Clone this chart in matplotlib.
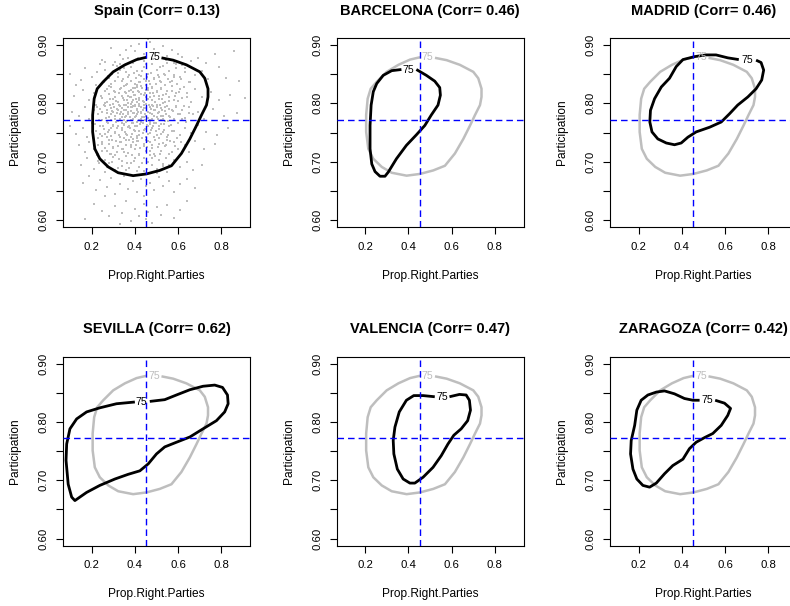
import matplotlib
matplotlib.use("Agg")
import matplotlib.pyplot as plt

plt.rcParams["font.family"] = ["Liberation Sans", "DejaVu Sans"]

GRAY = "#BEBEBE"
X_MEAN, Y_MEAN = 0.453, 0.772
XTICKS = [0.2, 0.4, 0.6, 0.8]
YTICKS = [0.60, 0.65, 0.70, 0.75, 0.80, 0.85, 0.90]
YTICKLABELS = ["0.60", "", "0.70", "", "0.80", "", "0.90"]

# municipalities of Spain (read off the grey cloud, approximate)
spain_pts = [
    # outer ring / sparse
    (0.29, 0.895), (0.33, 0.883), (0.36, 0.892), (0.38, 0.898), (0.40, 0.889), (0.42, 0.901),
    (0.44, 0.885), (0.47, 0.905), (0.49, 0.893), (0.51, 0.887), (0.53, 0.899), (0.55, 0.882),
    (0.57, 0.891), (0.60, 0.884), (0.62, 0.879), (0.66, 0.872), (0.69, 0.877), (0.73, 0.870),
    (0.77, 0.885), (0.86, 0.889), (0.25, 0.875), (0.31, 0.871), (0.46, 0.910), (0.37, 0.877),
    (0.58, 0.870),
    (0.10, 0.851), (0.15, 0.840), (0.17, 0.861), (0.20, 0.846), (0.22, 0.832), (0.26, 0.858),
    (0.28, 0.843), (0.30, 0.866), (0.32, 0.852), (0.34, 0.838), (0.35, 0.861), (0.37, 0.845),
    (0.39, 0.869), (0.40, 0.834), (0.41, 0.856), (0.43, 0.847), (0.44, 0.862), (0.45, 0.838),
    (0.46, 0.851), (0.48, 0.868), (0.49, 0.842), (0.50, 0.857), (0.52, 0.836), (0.53, 0.864),
    (0.54, 0.849), (0.56, 0.855), (0.57, 0.839), (0.59, 0.861), (0.61, 0.846), (0.63, 0.853),
    (0.65, 0.836), (0.68, 0.848), (0.71, 0.856), (0.74, 0.842), (0.79, 0.862), (0.82, 0.843),
    (0.88, 0.838), (0.13, 0.832), (0.24, 0.868), (0.36, 0.831), (0.47, 0.833), (0.58, 0.848),
    (0.42, 0.836), (0.33, 0.867), (0.51, 0.846), (0.62, 0.866), (0.29, 0.834), (0.44, 0.873),
    (0.55, 0.869),
    (0.12, 0.812), (0.16, 0.823), (0.19, 0.805), (0.21, 0.818), (0.23, 0.827), (0.25, 0.809),
    (0.26, 0.821), (0.27, 0.802), (0.28, 0.816), (0.29, 0.828), (0.30, 0.808), (0.31, 0.819),
    (0.32, 0.803), (0.33, 0.825), (0.34, 0.812), (0.35, 0.806), (0.35, 0.829), (0.36, 0.817),
    (0.37, 0.801), (0.38, 0.823), (0.38, 0.811), (0.39, 0.806), (0.40, 0.826), (0.40, 0.815),
    (0.41, 0.803), (0.42, 0.820), (0.42, 0.809), (0.43, 0.829), (0.44, 0.814), (0.44, 0.802),
    (0.45, 0.823), (0.46, 0.808), (0.47, 0.818), (0.48, 0.827), (0.48, 0.805), (0.49, 0.813),
    (0.50, 0.821), (0.51, 0.808), (0.52, 0.826), (0.53, 0.814), (0.54, 0.803), (0.55, 0.822),
    (0.56, 0.811), (0.57, 0.829), (0.58, 0.806), (0.59, 0.818), (0.61, 0.825), (0.62, 0.809),
    (0.64, 0.817), (0.66, 0.803), (0.68, 0.824), (0.71, 0.811), (0.75, 0.819), (0.79, 0.806),
    (0.84, 0.814), (0.91, 0.809), (0.31, 0.811), (0.41, 0.828), (0.46, 0.826), (0.53, 0.801),
    (0.37, 0.813), (0.27, 0.824), (0.60, 0.804), (0.45, 0.811), (0.39, 0.819),
    (0.11, 0.786), (0.14, 0.778), (0.17, 0.793), (0.19, 0.774), (0.21, 0.788), (0.22, 0.798),
    (0.23, 0.781), (0.24, 0.791), (0.25, 0.772), (0.26, 0.796), (0.27, 0.784), (0.28, 0.777),
    (0.29, 0.792), (0.30, 0.785), (0.30, 0.799), (0.31, 0.773), (0.32, 0.789), (0.33, 0.781),
    (0.33, 0.795), (0.34, 0.776), (0.35, 0.788), (0.36, 0.797), (0.36, 0.779), (0.37, 0.786),
    (0.38, 0.793), (0.38, 0.771), (0.39, 0.783), (0.40, 0.798), (0.40, 0.776), (0.41, 0.789),
    (0.41, 0.781), (0.42, 0.795), (0.43, 0.774), (0.43, 0.786), (0.44, 0.792), (0.45, 0.779),
    (0.45, 0.799), (0.46, 0.785), (0.47, 0.772), (0.47, 0.794), (0.48, 0.781), (0.49, 0.789),
    (0.50, 0.776), (0.50, 0.797), (0.51, 0.785), (0.52, 0.792), (0.53, 0.773), (0.54, 0.787),
    (0.55, 0.796), (0.56, 0.779), (0.57, 0.789), (0.58, 0.774), (0.59, 0.795), (0.60, 0.782),
    (0.62, 0.788), (0.63, 0.775), (0.65, 0.793), (0.67, 0.781), (0.69, 0.786), (0.72, 0.774),
    (0.76, 0.791), (0.81, 0.778), (0.87, 0.783), (0.35, 0.771), (0.44, 0.777), (0.52, 0.779),
    (0.29, 0.781), (0.39, 0.796), (0.48, 0.798),
    (0.10, 0.762), (0.13, 0.748), (0.16, 0.757), (0.18, 0.743), (0.20, 0.766), (0.22, 0.752),
    (0.23, 0.741), (0.24, 0.761), (0.26, 0.748), (0.27, 0.768), (0.28, 0.755), (0.29, 0.744),
    (0.30, 0.762), (0.31, 0.751), (0.32, 0.769), (0.33, 0.742), (0.34, 0.757), (0.35, 0.765),
    (0.36, 0.748), (0.37, 0.759), (0.38, 0.743), (0.39, 0.766), (0.40, 0.753), (0.41, 0.761),
    (0.42, 0.746), (0.43, 0.768), (0.44, 0.755), (0.45, 0.742), (0.46, 0.762), (0.47, 0.749),
    (0.48, 0.758), (0.49, 0.767), (0.50, 0.745), (0.51, 0.756), (0.52, 0.764), (0.53, 0.751),
    (0.55, 0.743), (0.56, 0.761), (0.58, 0.752), (0.60, 0.766), (0.61, 0.745), (0.63, 0.757),
    (0.66, 0.749), (0.69, 0.763), (0.73, 0.751), (0.78, 0.746), (0.83, 0.758), (0.36, 0.768),
    (0.41, 0.741), (0.47, 0.765), (0.25, 0.744), (0.54, 0.769),
    (0.14, 0.728), (0.17, 0.716), (0.19, 0.734), (0.21, 0.722), (0.23, 0.713), (0.25, 0.731),
    (0.27, 0.719), (0.28, 0.737), (0.30, 0.726), (0.31, 0.712), (0.33, 0.733), (0.34, 0.721),
    (0.36, 0.738), (0.37, 0.715), (0.38, 0.729), (0.40, 0.722), (0.41, 0.735), (0.42, 0.711),
    (0.44, 0.727), (0.45, 0.718), (0.46, 0.736), (0.48, 0.724), (0.49, 0.713), (0.51, 0.731),
    (0.52, 0.719), (0.54, 0.727), (0.56, 0.714), (0.58, 0.733), (0.60, 0.721), (0.63, 0.728),
    (0.65, 0.716), (0.68, 0.736), (0.72, 0.722), (0.77, 0.731), (0.29, 0.714), (0.39, 0.739),
    (0.47, 0.711), (0.55, 0.738),
    (0.15, 0.694), (0.18, 0.706), (0.21, 0.688), (0.23, 0.701), (0.26, 0.683), (0.28, 0.697),
    (0.30, 0.708), (0.32, 0.689), (0.34, 0.702), (0.36, 0.685), (0.38, 0.697), (0.40, 0.707),
    (0.42, 0.691), (0.44, 0.684), (0.46, 0.699), (0.48, 0.706), (0.50, 0.688), (0.53, 0.696),
    (0.55, 0.682), (0.58, 0.703), (0.61, 0.691), (0.64, 0.699), (0.67, 0.686), (0.71, 0.694),
    (0.36, 0.709), (0.51, 0.703),
    (0.16, 0.663), (0.19, 0.675), (0.22, 0.652), (0.24, 0.668), (0.27, 0.657), (0.29, 0.672),
    (0.31, 0.645), (0.33, 0.661), (0.35, 0.676), (0.37, 0.654), (0.39, 0.667), (0.41, 0.648),
    (0.43, 0.671), (0.45, 0.658), (0.47, 0.664), (0.49, 0.651), (0.51, 0.673), (0.53, 0.659),
    (0.56, 0.667), (0.58, 0.648), (0.61, 0.662), (0.64, 0.671), (0.68, 0.655), (0.26, 0.642),
    (0.44, 0.642),
    (0.17, 0.601), (0.21, 0.628), (0.25, 0.615), (0.28, 0.607), (0.31, 0.624), (0.34, 0.612),
    (0.36, 0.632), (0.38, 0.598), (0.40, 0.619), (0.42, 0.607), (0.44, 0.628), (0.46, 0.614),
    (0.48, 0.595), (0.50, 0.622), (0.52, 0.609), (0.55, 0.626), (0.58, 0.603), (0.61, 0.618),
    (0.64, 0.632), (0.33, 0.593), (0.45, 0.601),
    # dense core
    (0.225, 0.853), (0.243, 0.812), (0.257, 0.836), (0.263, 0.801), (0.274, 0.847), (0.281, 0.829),
    (0.287, 0.807), (0.296, 0.851), (0.303, 0.822), (0.309, 0.838), (0.314, 0.804), (0.322, 0.845),
    (0.327, 0.817), (0.332, 0.858), (0.338, 0.826), (0.343, 0.809), (0.347, 0.841), (0.353, 0.819),
    (0.358, 0.853), (0.362, 0.806), (0.366, 0.834), (0.371, 0.822), (0.375, 0.848), (0.379, 0.811),
    (0.384, 0.839), (0.387, 0.803), (0.391, 0.827), (0.394, 0.852), (0.398, 0.815), (0.403, 0.843),
    (0.406, 0.808), (0.409, 0.831), (0.413, 0.821), (0.417, 0.849), (0.421, 0.806), (0.424, 0.837),
    (0.428, 0.816), (0.431, 0.855), (0.434, 0.826), (0.438, 0.804), (0.442, 0.841), (0.447, 0.818),
    (0.451, 0.832), (0.455, 0.807), (0.458, 0.846), (0.463, 0.823), (0.467, 0.838), (0.471, 0.811),
    (0.476, 0.852), (0.479, 0.828), (0.483, 0.817), (0.488, 0.843), (0.492, 0.803), (0.496, 0.834),
    (0.501, 0.819), (0.506, 0.848), (0.511, 0.812), (0.516, 0.839), (0.521, 0.824), (0.527, 0.807),
    (0.533, 0.851), (0.538, 0.831), (0.544, 0.816), (0.551, 0.842), (0.557, 0.804), (0.563, 0.836),
    (0.571, 0.821), (0.579, 0.846), (0.587, 0.813), (0.596, 0.833), (0.605, 0.819), (0.614, 0.841),
    (0.627, 0.828), (0.641, 0.811), (0.655, 0.837),
    (0.205, 0.779), (0.214, 0.764), (0.226, 0.793), (0.234, 0.771), (0.246, 0.786), (0.252, 0.762),
    (0.259, 0.797), (0.266, 0.775), (0.272, 0.789), (0.277, 0.766), (0.283, 0.798), (0.288, 0.772),
    (0.293, 0.787), (0.298, 0.763), (0.302, 0.794), (0.307, 0.779), (0.311, 0.768), (0.316, 0.791),
    (0.319, 0.783), (0.324, 0.761), (0.328, 0.797), (0.331, 0.774), (0.336, 0.786), (0.339, 0.767),
    (0.342, 0.792), (0.346, 0.781), (0.349, 0.763), (0.352, 0.798), (0.356, 0.776), (0.359, 0.788),
    (0.363, 0.769), (0.367, 0.794), (0.369, 0.782), (0.373, 0.762), (0.377, 0.777), (0.381, 0.799),
    (0.383, 0.787), (0.386, 0.766), (0.389, 0.793), (0.392, 0.774), (0.396, 0.784), (0.399, 0.761),
    (0.402, 0.796), (0.405, 0.779), (0.408, 0.768), (0.411, 0.791), (0.414, 0.786), (0.418, 0.772),
    (0.421, 0.799), (0.423, 0.764), (0.427, 0.783), (0.429, 0.794), (0.433, 0.776), (0.436, 0.788),
    (0.439, 0.767), (0.443, 0.797), (0.446, 0.781), (0.449, 0.771), (0.453, 0.792), (0.456, 0.763),
    (0.459, 0.786), (0.462, 0.775), (0.466, 0.798), (0.469, 0.768), (0.472, 0.784), (0.476, 0.791),
    (0.479, 0.773), (0.482, 0.762), (0.486, 0.795), (0.489, 0.779), (0.493, 0.788), (0.497, 0.766),
    (0.502, 0.793), (0.506, 0.774), (0.509, 0.783), (0.513, 0.761), (0.518, 0.797), (0.522, 0.771),
    (0.526, 0.789), (0.531, 0.778), (0.535, 0.765), (0.541, 0.793), (0.546, 0.782), (0.552, 0.769),
    (0.557, 0.791), (0.563, 0.776), (0.569, 0.763), (0.576, 0.787), (0.583, 0.771), (0.591, 0.794),
    (0.598, 0.766), (0.607, 0.782), (0.616, 0.773), (0.626, 0.796), (0.638, 0.768), (0.652, 0.784),
    (0.208, 0.741), (0.219, 0.753), (0.231, 0.728), (0.238, 0.747), (0.247, 0.734), (0.256, 0.756),
    (0.263, 0.723), (0.269, 0.742), (0.276, 0.751), (0.282, 0.731), (0.289, 0.757), (0.295, 0.738),
    (0.301, 0.724), (0.306, 0.749), (0.312, 0.736), (0.318, 0.758), (0.323, 0.727), (0.329, 0.745),
    (0.334, 0.733), (0.339, 0.754), (0.344, 0.722), (0.351, 0.741), (0.355, 0.751), (0.361, 0.729),
    (0.366, 0.746), (0.372, 0.737), (0.376, 0.757), (0.382, 0.725), (0.387, 0.748), (0.393, 0.734),
    (0.397, 0.755), (0.403, 0.728), (0.408, 0.744), (0.413, 0.736), (0.419, 0.753), (0.425, 0.723),
    (0.431, 0.741), (0.436, 0.749), (0.441, 0.731), (0.447, 0.756), (0.452, 0.738), (0.458, 0.726),
    (0.463, 0.747), (0.468, 0.734), (0.474, 0.754), (0.481, 0.729), (0.487, 0.743), (0.493, 0.737),
    (0.499, 0.752), (0.506, 0.726), (0.513, 0.741), (0.521, 0.748), (0.528, 0.732), (0.536, 0.755),
    (0.545, 0.729), (0.553, 0.745), (0.562, 0.736), (0.573, 0.752), (0.584, 0.727), (0.596, 0.741),
    (0.611, 0.733),
    (0.224, 0.712), (0.236, 0.697), (0.248, 0.718), (0.261, 0.703), (0.273, 0.691), (0.284, 0.714),
    (0.296, 0.699), (0.307, 0.686), (0.318, 0.717), (0.329, 0.705), (0.341, 0.693), (0.352, 0.716),
    (0.363, 0.698), (0.374, 0.689), (0.386, 0.711), (0.397, 0.701), (0.409, 0.684), (0.421, 0.714),
    (0.432, 0.697), (0.444, 0.706), (0.456, 0.688), (0.468, 0.718), (0.479, 0.695), (0.491, 0.709),
    (0.503, 0.681), (0.516, 0.713), (0.529, 0.692), (0.543, 0.707), (0.557, 0.694), (0.572, 0.716),
    (0.262, 0.871), (0.318, 0.864), (0.347, 0.876), (0.384, 0.862), (0.413, 0.878), (0.452, 0.868),
    (0.486, 0.876), (0.517, 0.862), (0.546, 0.874), (0.591, 0.867), (0.631, 0.861),
]
spain_x = [p[0] for p in spain_pts]
spain_y = [p[1] for p in spain_pts]

# 75 contour lines, each opened where its "75" label sits
spain_cx = [0.523, 0.577, 0.638, 0.700, 0.723, 0.738, 0.738, 0.731, 0.708, 0.685, 0.654,
            0.615, 0.569, 0.515, 0.454, 0.392, 0.323, 0.277, 0.238, 0.215, 0.205, 0.205,
            0.212, 0.226, 0.254, 0.300, 0.354, 0.408, 0.454]
spain_cy = [0.878, 0.874, 0.866, 0.854, 0.843, 0.825, 0.811, 0.797, 0.780, 0.762, 0.739,
            0.714, 0.693, 0.685, 0.679, 0.676, 0.681, 0.691, 0.705, 0.722, 0.751, 0.780,
            0.808, 0.825, 0.837, 0.854, 0.866, 0.875, 0.879]
spain_lab = (0.489, 0.879)

bcn_cx = [0.437, 0.483, 0.522, 0.545, 0.548, 0.537, 0.506, 0.476, 0.437, 0.391, 0.345,
          0.307, 0.292, 0.269, 0.246, 0.231, 0.223, 0.223, 0.228, 0.238, 0.254, 0.284,
          0.323, 0.368]
bcn_cy = [0.858, 0.848, 0.838, 0.827, 0.814, 0.797, 0.780, 0.762, 0.746, 0.728, 0.705,
          0.682, 0.675, 0.675, 0.683, 0.696, 0.722, 0.762, 0.797, 0.820, 0.834, 0.848,
          0.856, 0.858]
bcn_lab = (0.402, 0.857)

mad_cx = [0.743, 0.766, 0.778, 0.769, 0.743, 0.705, 0.658, 0.620, 0.582, 0.528, 0.466,
          0.428, 0.397, 0.366, 0.328, 0.289, 0.262, 0.252, 0.255, 0.274, 0.305, 0.343,
          0.374, 0.405, 0.458, 0.512, 0.558, 0.612, 0.663]
mad_cy = [0.874, 0.870, 0.857, 0.840, 0.825, 0.811, 0.797, 0.782, 0.768, 0.759, 0.751,
          0.742, 0.732, 0.729, 0.732, 0.739, 0.751, 0.768, 0.788, 0.808, 0.828, 0.843,
          0.863, 0.875, 0.880, 0.883, 0.883, 0.878, 0.875]
mad_lab = (0.702, 0.874)

sev_cx = [0.469, 0.538, 0.592, 0.654, 0.715, 0.769, 0.805, 0.828, 0.831, 0.815, 0.777,
          0.715, 0.654, 0.592, 0.538, 0.500, 0.462, 0.423, 0.369, 0.308, 0.238, 0.177,
          0.146, 0.123, 0.108, 0.092, 0.082, 0.085, 0.100, 0.131, 0.177, 0.238, 0.315,
          0.400]
sev_cy = [0.835, 0.838, 0.846, 0.855, 0.861, 0.863, 0.859, 0.846, 0.831, 0.817, 0.802,
          0.788, 0.774, 0.765, 0.757, 0.745, 0.728, 0.716, 0.710, 0.702, 0.691, 0.679,
          0.671, 0.665, 0.671, 0.693, 0.734, 0.762, 0.788, 0.805, 0.817, 0.824, 0.831,
          0.834]
sev_lab = (0.431, 0.834)

val_cx = [0.590, 0.636, 0.667, 0.682, 0.687, 0.674, 0.644, 0.610, 0.583, 0.552, 0.514,
          0.468, 0.430, 0.407, 0.376, 0.349, 0.333, 0.330, 0.338, 0.358, 0.391, 0.425,
          0.468, 0.522]
val_cy = [0.843, 0.847, 0.846, 0.837, 0.820, 0.802, 0.788, 0.777, 0.762, 0.742, 0.722,
          0.705, 0.695, 0.695, 0.702, 0.719, 0.745, 0.768, 0.791, 0.817, 0.837, 0.845,
          0.845, 0.843]
val_lab = (0.555, 0.843)

zar_cx = [0.554, 0.597, 0.625, 0.612, 0.582, 0.543, 0.505, 0.466, 0.435, 0.405, 0.358,
          0.320, 0.282, 0.251, 0.220, 0.192, 0.174, 0.163, 0.166, 0.182, 0.192, 0.212,
          0.243, 0.282, 0.320, 0.366, 0.412, 0.451, 0.482]
zar_cy = [0.837, 0.832, 0.823, 0.811, 0.794, 0.780, 0.773, 0.765, 0.754, 0.736, 0.725,
          0.711, 0.695, 0.688, 0.691, 0.702, 0.719, 0.745, 0.768, 0.794, 0.820, 0.837,
          0.846, 0.851, 0.853, 0.848, 0.840, 0.837, 0.837]
zar_lab = (0.517, 0.837)

names = ["Spain", "BARCELONA", "MADRID", "SEVILLA", "VALENCIA", "ZARAGOZA"]
corrs = [0.13, 0.46, 0.46, 0.62, 0.47, 0.42]
contours = [(spain_cx, spain_cy, spain_lab), (bcn_cx, bcn_cy, bcn_lab),
            (mad_cx, mad_cy, mad_lab), (sev_cx, sev_cy, sev_lab),
            (val_cx, val_cy, val_lab), (zar_cx, zar_cy, zar_lab)]


def draw_contour(ax, cx, cy, lab, color, lw):
    ax.plot(cx, cy, color=color, lw=lw, solid_joinstyle="round",
            solid_capstyle="butt", zorder=3)
    ax.text(lab[0], lab[1], "75", color=color, fontsize=7.6,
            ha="center", va="center", zorder=4)


W, H = 790.0, 606.0
BOX_W, BOX_H = 187.0, 189.0
col_left = [63.0, 336.5, 610.0]
row_top = [38.0, 356.5]

fig = plt.figure(figsize=(W / 100, H / 100), dpi=100)

for i, name in enumerate(names):
    r, c = divmod(i, 3)
    ax = fig.add_axes([col_left[c] / W, 1 - (row_top[r] + BOX_H) / H,
                       BOX_W / W, BOX_H / H])
    ax.set_xlim(0.068, 0.932)
    ax.set_ylim(0.588, 0.912)

    if i == 0:
        ax.plot(spain_x, spain_y, "s", ms=1.7, mew=0, color=GRAY, zorder=1)
        draw_contour(ax, *contours[0], "black", 2.0)
    else:
        draw_contour(ax, *contours[0], GRAY, 1.8)
        draw_contour(ax, *contours[i], "black", 2.0)

    ax.axvline(X_MEAN, color="blue", lw=1.0, ls=(0, (4.7, 2.9)), zorder=5)
    ax.axhline(Y_MEAN, color="blue", lw=1.0, ls=(0, (4.7, 2.9)), zorder=5)

    ax.set_xticks(XTICKS)
    ax.set_xticklabels(["0.2", "0.4", "0.6", "0.8"])
    ax.set_yticks(YTICKS)
    ax.set_yticklabels(YTICKLABELS, rotation=90, va="center")
    ax.tick_params(direction="out", length=4.8, width=0.8, labelsize=8.2,
                   colors="black")
    ax.tick_params(axis="x", pad=6.0)
    ax.tick_params(axis="y", pad=5.5)
    for s in ax.spines.values():
        s.set_linewidth(0.8)

    ax.text(0.5, 1 + 27 / BOX_H, f"{name} (Corr= {corrs[i]:.2f})",
            fontsize=10.5, fontweight="bold", ha="center", va="center",
            transform=ax.transAxes)
    ax.text(0.5, -49 / BOX_H, "Prop.Right.Parties", fontsize=8.6,
            ha="center", va="center", transform=ax.transAxes)
    ax.text(-48 / BOX_W, 0.5, "Participation", fontsize=8.6, rotation=90,
            ha="center", va="center", transform=ax.transAxes)

fig.savefig("out.png", dpi=100)
